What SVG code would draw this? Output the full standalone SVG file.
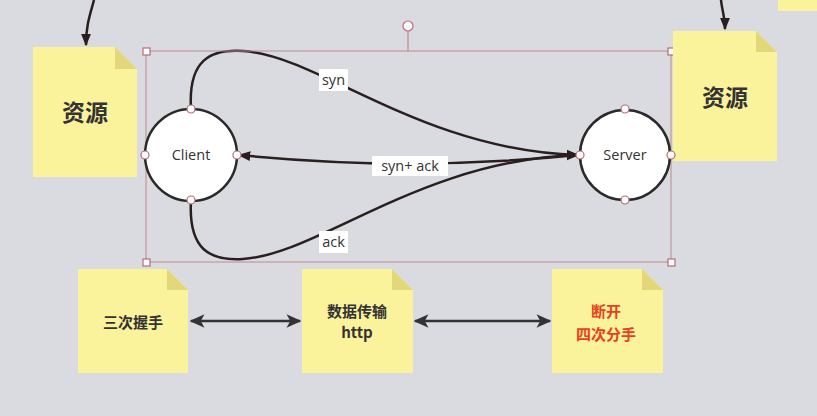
<svg xmlns="http://www.w3.org/2000/svg" width="817" height="416" viewBox="0 0 817 416">
<style>
.note{fill:#fbf29c}
.fold{fill:#e2d879}
.nt{font-family:"Noto Sans CJK SC","Liberation Sans",sans-serif;font-weight:bold;fill:#333;text-anchor:middle}
.lbl{font-family:"Open Sans","Liberation Sans",sans-serif;font-size:14.5px;fill:#333;text-anchor:middle}
.ln{fill:none;stroke:#2a1f1f;stroke-width:2.5}
.arr{fill:none;stroke:#333;stroke-width:2.5}
.h{fill:#fff;stroke:#b86a74;stroke-width:1.2}
.circ{fill:#fff;stroke:#2a2a2a;stroke-width:2.5}
</style>
<defs>
<marker id="ah" viewBox="0 0 10 10" refX="9" refY="5" markerWidth="5" markerHeight="5" orient="auto-start-reverse" markerUnits="strokeWidth">
<path d="M0,1 L10,5 L0,9 Z" fill="#2a1f1f"/>
</marker>
<marker id="ah2" viewBox="0 0 10 10" refX="9" refY="5" markerWidth="6.5" markerHeight="6" orient="auto-start-reverse" markerUnits="strokeWidth">
<path d="M0,0.5 L10,5 L0,9.5 L2.5,5 Z" fill="#333"/>
</marker>
</defs>
<rect width="817" height="416" fill="#dadbe0"/>

<g id="corner-note"><rect x="778" y="0" width="39" height="11" class="note"/></g>

<g id="connectors">
<path class="ln" d="M94,0 C90,15 86,25 86,45" marker-end="url(#ah)"/>
<path class="ln" d="M721,0 C722,10 725,18 725,29" marker-end="url(#ah)"/>
<path class="ln" d="M191,109 C188,60 210,49 243,51 C320,56 420,150 578,155" marker-end="url(#ah)"/>
<path class="ln" d="M578,155 Q410,172 239,155" marker-end="url(#ah)"/>
<path class="ln" d="M191,200 C188,250 210,261 243,259 C320,254 420,160 578,155" marker-end="url(#ah)"/>
<path class="arr" d="M191,321 L300,321" marker-start="url(#ah2)" marker-end="url(#ah2)"/>
<path class="arr" d="M415,321 L550,321" marker-start="url(#ah2)" marker-end="url(#ah2)"/>
<rect x="319" y="69" width="29" height="22" fill="#fff"/>
<text class="lbl" x="333.5" y="85">syn</text>
<rect x="372" y="156" width="76" height="20" fill="#fff"/>
<text class="lbl" x="410" y="171">syn+ ack</text>
<rect x="319" y="231" width="29" height="22" fill="#fff"/>
<text class="lbl" x="333.5" y="247">ack</text>
</g>

<g id="selection">
<rect x="146" y="51" width="525" height="211" fill="none" stroke="#b88a8f" stroke-width="1"/>
<line x1="408" y1="31" x2="408" y2="51" stroke="#b88a8f" stroke-width="1.2"/>
<circle cx="408" cy="26" r="5" class="h"/>
<rect x="143" y="48" width="7" height="7" class="h"/>
<rect x="668" y="48" width="7" height="7" class="h"/>
<rect x="143" y="259" width="7" height="7" class="h"/>
<rect x="668" y="259" width="7" height="7" class="h"/>
</g>

<g id="res-left">
<path class="note" d="M33,47 H115 L137,69 V177 H33 Z"/>
<path class="fold" d="M115,47 L137,69 H115 Z"/>
<text class="nt" x="85" y="121" font-size="23">资源</text>
</g>

<g id="res-right">
<path class="note" d="M673,31 H756 L777,52 V161 H673 Z"/>
<path class="fold" d="M756,31 L777,52 H756 Z"/>
<text class="nt" x="725" y="106" font-size="23">资源</text>
</g>

<g id="client">
<circle cx="191" cy="155" r="46" class="circ"/>
<text class="lbl" x="191" y="160">Client</text>
<circle cx="191" cy="109" r="4" class="h"/>
<circle cx="145" cy="155" r="4" class="h"/>
<circle cx="237" cy="155" r="4" class="h"/>
<circle cx="191" cy="200" r="4" class="h"/>
</g>

<g id="server">
<circle cx="625" cy="155" r="45" class="circ"/>
<text class="lbl" x="625" y="160">Server</text>
<circle cx="625" cy="109" r="4" class="h"/>
<circle cx="580" cy="155" r="4" class="h"/>
<circle cx="671" cy="155" r="4" class="h"/>
<circle cx="625" cy="200" r="4" class="h"/>
</g>

<g id="handshake">
<path class="note" d="M78,269 H167 L188,290 V373 H78 Z"/>
<path class="fold" d="M167,269 L188,290 H167 Z"/>
<text class="nt" x="133" y="328" font-size="15">三次握手</text>
</g>

<g id="transfer">
<path class="note" d="M302,269 H392 L413,290 V373 H302 Z"/>
<path class="fold" d="M392,269 L413,290 H392 Z"/>
<text class="nt" x="357" y="317" font-size="15">数据传输</text>
<text class="nt" x="357" y="338" font-size="15">http</text>
</g>

<g id="close">
<path class="note" d="M552,269 H642 L663,290 V373 H552 Z"/>
<path class="fold" d="M642,269 L663,290 H642 Z"/>
<text class="nt" x="606" y="317" font-size="15" style="fill:#e8401c">断开</text>
<text class="nt" x="606" y="340" font-size="15" style="fill:#e8401c">四次分手</text>
</g>
</svg>
